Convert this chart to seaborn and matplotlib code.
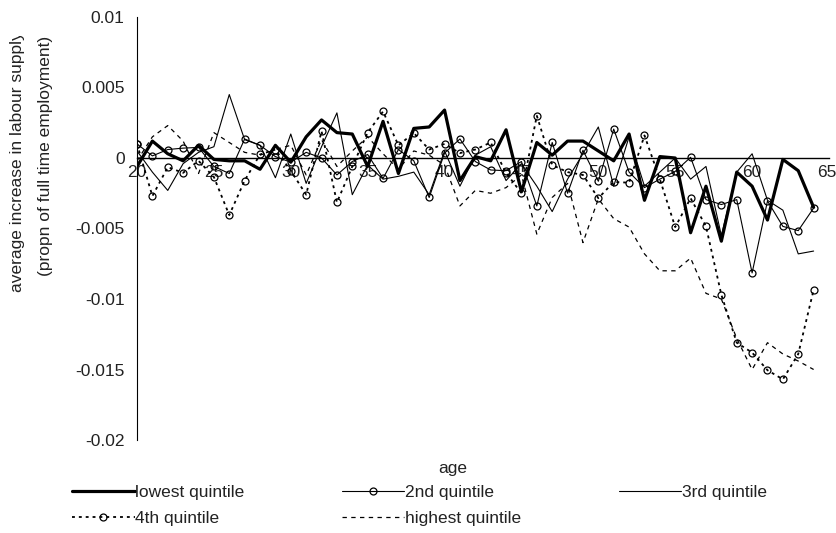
import numpy as np
import pandas as pd
import matplotlib
matplotlib.use("Agg")
import matplotlib.pyplot as plt
from matplotlib.transforms import Bbox
import matplotlib.transforms as mtrans
import seaborn as sns

ages = list(range(20, 65))

lowest = [-0.0006, 0.0012, 0.0003, -0.0002, 0.0009, -0.0001, -0.0002, -0.0002, -0.0008, 0.0009,
          -0.0003, 0.0015, 0.0027, 0.0018, 0.0017, -0.0006, 0.0026, -0.0011, 0.0021, 0.0022,
          0.0034, -0.0016, 0.0001, -0.0002, 0.0020, -0.0024, 0.0011, 0.0002, 0.0012, 0.0012,
          0.0005, -0.0002, 0.0017, -0.0030, 0.0001, 0.0000, -0.0053, -0.0020, -0.0059, -0.0010,
          -0.0020, -0.0044, -0.0001, -0.0009, -0.0035]

second = [0.0010, 0.00015, 0.0006, 0.0007, 0.00075, -0.0006, -0.0011, 0.00135, 0.0009, 0.0001,
          -0.0003, 0.0004, 0.0000, -0.0012, -0.00025, 0.00025, -0.00145, 0.0006, -0.0002, -0.0028,
          0.00035, 0.00135, -0.00025, -0.00085, -0.0009, -0.00025, -0.0034, 0.0011, -0.0025, 0.00055,
          -0.00165, 0.00205, -0.0010, -0.0021, -0.0015, -0.00095, 0.00005, -0.00295, -0.0033, -0.00295,
          -0.00815, -0.00305, -0.00485, -0.00515, -0.00355]

third = [0.0005, -0.0010, -0.0023, -0.0004, 0.0004, 0.0008, 0.0045, 0.0013, 0.0009, -0.0014,
         0.0017, -0.0018, 0.0008, 0.0032, -0.0026, -0.0005, -0.0015, -0.0013, -0.0010, -0.0026,
         0.0005, -0.0020, 0.0002, 0.0008, -0.0016, -0.0004, -0.0020, -0.0038, -0.0015, 0.0003,
         0.0022, -0.0020, 0.0015, -0.0020, -0.0010, 0.0000, -0.0015, -0.0006, -0.0055, -0.0010,
         0.0003, -0.0030, -0.0037, -0.0068, -0.0066]

fourth = [0.0010, -0.0027, -0.00065, -0.00105, -0.0002, -0.00135, -0.00405, -0.0016, 0.00025, 0.0006,
          -0.0009, -0.0026, 0.0019, -0.00315, -0.0006, 0.0018, 0.0033, 0.0009, 0.00177, 0.0006,
          0.0010, 0.00035, 0.0006, 0.0011, -0.00105, -0.0025, 0.0030, -0.0005, -0.0010, -0.0012,
          -0.00285, -0.0017, -0.00175, 0.0016, -0.0015, -0.0049, -0.00285, -0.00485, -0.0097, -0.0131,
          -0.0138, -0.01505, -0.0157, -0.0139, -0.00935]

highest = [-0.0002, 0.0015, 0.0023, 0.0012, -0.0011, 0.0018, 0.0011, 0.0004, 0.0002, 0.0006,
           0.0009, -0.0012, 0.0013, -0.0006, 0.0005, 0.0015, 0.0003, -0.0008, 0.0005, 0.0002,
           -0.0005, -0.0034, -0.0023, -0.0025, -0.0021, -0.0012, -0.0054, -0.0028, -0.0018, -0.0060,
           -0.0029, -0.0043, -0.0049, -0.0068, -0.0080, -0.0080, -0.0071, -0.0096, -0.0100, -0.0128,
           -0.0150, -0.0131, -0.0139, -0.0144, -0.0150]

series_names = ["lowest quintile", "2nd quintile", "3rd quintile", "4th quintile", "highest quintile"]
x_ticks = [20, 25, 30, 35, 40, 45, 50, 55, 60, 65]
y_ticks = [0.01, 0.005, 0.0, -0.005, -0.01, -0.015, -0.02]
y_tick_labels = ["0.01", "0.005", "0", "-0.005", "-0.01", "-0.015", "-0.02"]

sns.set_theme(style="white")
plt.rcParams["font.family"] = ["Liberation Sans", "DejaVu Sans"]

W, H = 837, 533
fig = plt.figure(figsize=(W / 100, H / 100), dpi=100)
ax = fig.add_axes([137 / W, 1 - 440 / H, (829 - 137) / W, (440 - 17) / H])
ax.set_facecolor("white")

styles = [
    dict(color="black", linewidth=2.3, linestyle="-"),
    dict(color="black", linewidth=0.8, linestyle="-", marker="o", markersize=5,
         markerfacecolor="none", markeredgecolor="black", markeredgewidth=0.9),
    dict(color="black", linewidth=0.8, linestyle="-"),
    dict(color="black", linewidth=1.3, linestyle=(0, (1.6, 2.2)), marker="o", markersize=5,
         markerfacecolor="none", markeredgecolor="black", markeredgewidth=0.9),
    dict(color="black", linewidth=0.9, linestyle=(0, (3.5, 3.5))),
]
all_series = [lowest, second, third, fourth, highest]

handles = []
for name, vals, st in zip(series_names, all_series, styles):
    df = pd.DataFrame({"age": ages, "value": vals})
    sns.lineplot(data=df, x="age", y="value", ax=ax, label=name, legend=False, **st)
    handles.append(ax.lines[-1])

ax.set_xlim(20, 65)
ax.set_ylim(-0.02, 0.01)

for s in ["top", "right"]:
    ax.spines[s].set_visible(False)
ax.spines["bottom"].set_position(("data", 0))
ax.spines["bottom"].set_color("black")
ax.spines["bottom"].set_linewidth(1.0)
ax.spines["left"].set_color("black")
ax.spines["left"].set_linewidth(0.8)
ax.spines["bottom"].set_zorder(0.5)

ax.set_xticks(x_ticks)
ax.set_xticklabels([str(t) for t in x_ticks])
ax.set_yticks(y_ticks)
ax.set_yticklabels(y_tick_labels)
ax.tick_params(axis="x", direction="out", length=4, width=0.8, color="black",
               labelsize=12.5, pad=1, labelcolor="#222222")
ax.tick_params(axis="y", direction="out", length=5, width=0.8, color="black",
               labelsize=12.5, pad=4, labelcolor="#222222")
ax.set_xlabel("")
ax.set_ylabel("")
ax.grid(False)

# keep the last x label inside the picture
last = ax.get_xticklabels()[-1]
last.set_horizontalalignment("right")
last.set_transform(last.get_transform() + mtrans.ScaledTranslation(8 / 100, 0, fig.dpi_scale_trans))

fig.text(0.541, 1 - 469 / H, "age", ha="center", va="center", fontsize=12.5, color="#222222")
t1 = fig.text(18 / W, 1 - 162 / H, "average increase in labour supply", rotation=90,
              ha="center", va="center", fontsize=12.5, color="#222222")
t1.set_clip_box(Bbox.from_extents(0, 0, W, H - 36))
t1.set_clip_on(True)
fig.text(46 / W, 1 - 156 / H, "(propn of full time employment)", rotation=90,
         ha="center", va="center", fontsize=12.5, color="#222222")

order = [0, 3, 1, 4, 2]
leg = fig.legend([handles[i] for i in order], [series_names[i] for i in order],
                 ncol=3, loc="upper left", bbox_to_anchor=(72 / W, 1 - 485 / H),
                 frameon=False, fontsize=12.5, handlelength=3.6, handletextpad=0.05,
                 columnspacing=5.6, labelspacing=0.6, borderaxespad=0, borderpad=0)
for t in leg.get_texts():
    t.set_color("#222222")

fig.savefig("out.png", dpi=100)
